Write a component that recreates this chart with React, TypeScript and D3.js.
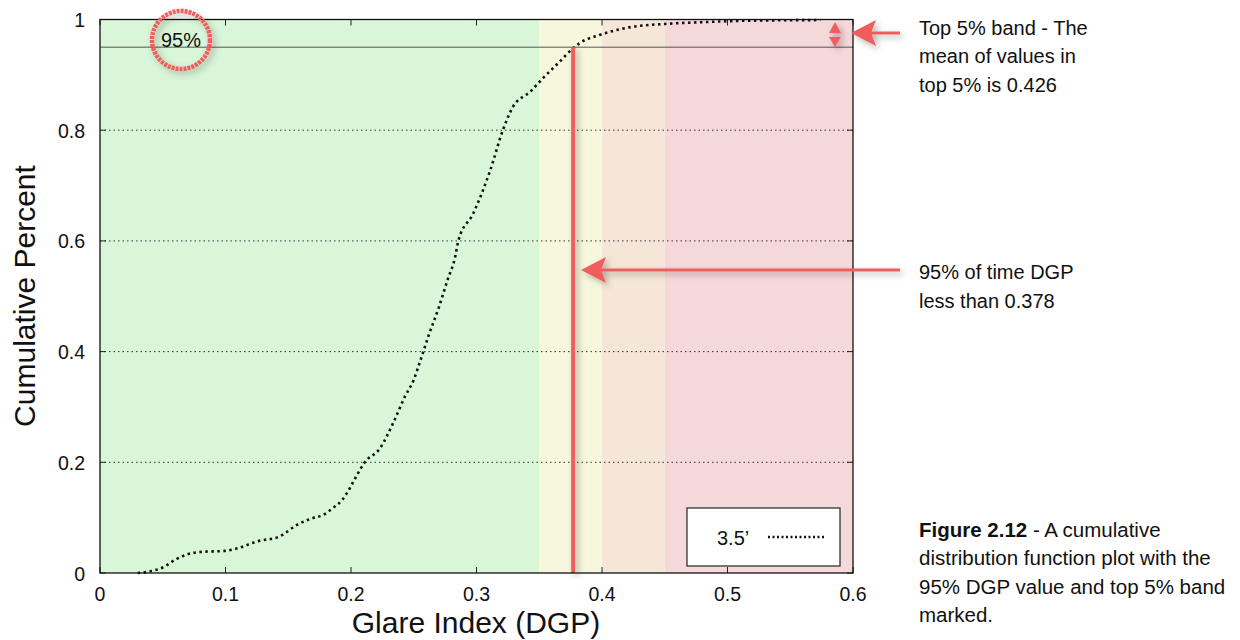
import React from "react";
import * as d3 from "d3";

// CDF of the glare index (DGP)
const dgpValues = [0.03, 0.04, 0.05, 0.06, 0.07, 0.08, 0.1, 0.11, 0.125, 0.143, 0.157, 0.168, 0.178, 0.186, 0.193, 0.199, 0.205, 0.211, 0.223, 0.234, 0.243, 0.25, 0.255, 0.262, 0.27, 0.277, 0.283, 0.2855, 0.2975, 0.311, 0.321, 0.329, 0.343, 0.353, 0.365, 0.377, 0.382, 0.398, 0.425, 0.45, 0.478, 0.52, 0.574];
const cumPercent = [0, 0.003, 0.01, 0.024, 0.034, 0.038, 0.04, 0.045, 0.057, 0.066, 0.087, 0.098, 0.105, 0.118, 0.132, 0.153, 0.178, 0.2, 0.225, 0.273, 0.319, 0.349, 0.382, 0.43, 0.48, 0.53, 0.571, 0.6, 0.65, 0.728, 0.8, 0.842, 0.87, 0.894, 0.921, 0.948, 0.957, 0.972, 0.987, 0.992, 0.995, 0.998, 0.999];

const bandEdges = [0, 0.35, 0.4, 0.45, 0.6];
const bandColors = ["#d9f6d9", "#f6f7dc", "#f5e6d8", "#f5d8da"];

const xTicks = [0, 0.1, 0.2, 0.3, 0.4, 0.5, 0.6];
const yTicks = [0, 0.2, 0.4, 0.6, 0.8, 1];
const gridLevels = [0.2, 0.4, 0.6, 0.8];

const percentile95 = 0.95;
const dgp95 = 0.377;

const seriesName = "3.5\u2019";
const topNote = ["Top 5% band - The", "mean of values in", "top 5% is 0.426"];
const midNote = ["95% of time DGP", "less than 0.378"];
const captionLines = ["distribution function plot with the", "95% DGP value and top 5% band", "marked."];

const RED = "#ef5d5c";
const FONT = "'Liberation Sans', Arial, Helvetica, sans-serif";

export default function App() {
  const width = 1240;
  const height = 640;
  const plot = { left: 100, right: 853, top: 19.5, bottom: 573 };

  const x = d3.scaleLinear().domain([0, 0.6]).range([plot.left, plot.right]);
  const y = d3.scaleLinear().domain([0, 1]).range([plot.bottom, plot.top]);

  const points = dgpValues.map((v, i) => [v, cumPercent[i]] as [number, number]);
  const linePath = d3
    .line<[number, number]>()
    .x((d) => x(d[0]))
    .y((d) => y(d[1]))
    .curve(d3.curveMonotoneX)(points);

  const arrow = (tipX: number, tipY: number, tailX: number) => (
    <g filter="url(#shadow)">
      <rect x={tipX + 18} y={tipY - 1.5} width={tailX - tipX - 18} height={3} fill={RED} />
      <path d={`M${tipX},${tipY} L${tipX + 25},${tipY - 13} L${tipX + 20},${tipY} L${tipX + 25},${tipY + 13} Z`} fill={RED} />
    </g>
  );

  return (
    <svg width={width} height={height} style={{ position: "absolute", left: 0, top: 0 }} fontFamily={FONT}>
      <defs>
        <filter id="shadow" filterUnits="userSpaceOnUse" x={0} y={0} width={width} height={height}>
          <feDropShadow dx={3} dy={3} stdDeviation={3} floodColor="#000" floodOpacity={0.3} />
        </filter>
      </defs>

      {/* DGP bands */}
      {bandColors.map((c, i) => (
        <rect key={i} x={x(bandEdges[i])} y={plot.top} width={x(bandEdges[i + 1]) - x(bandEdges[i])} height={plot.bottom - plot.top} fill={c} />
      ))}

      {/* grid */}
      {gridLevels.map((g) => (
        <line key={g} x1={plot.left} x2={plot.right} y1={y(g)} y2={y(g)} stroke="#333" strokeWidth={1} strokeDasharray="1.5,3" />
      ))}

      {/* 95% line */}
      <line x1={plot.left} x2={plot.right} y1={y(percentile95)} y2={y(percentile95)} stroke="#555" strokeWidth={1} />

      {/* ticks */}
      {xTicks.map((t) => (
        <g key={t}>
          <line x1={x(t)} x2={x(t)} y1={plot.bottom} y2={plot.bottom - 6} stroke="#222" />
          <line x1={x(t)} x2={x(t)} y1={plot.top} y2={plot.top + 6} stroke="#222" />
          <text x={x(t)} y={601} textAnchor="middle" fontSize={19.5} fill="#111">{t}</text>
        </g>
      ))}
      {yTicks.map((t) => (
        <g key={t}>
          <line x1={plot.left} x2={plot.left + 6} y1={y(t)} y2={y(t)} stroke="#222" />
          <line x1={plot.right} x2={plot.right - 6} y1={y(t)} y2={y(t)} stroke="#222" />
          <text x={85} y={y(t) + 7.5} textAnchor="end" fontSize={19.5} fill="#111">{t}</text>
        </g>
      ))}

      {/* CDF curve */}
      <path d={linePath ?? ""} fill="none" stroke="#111" strokeWidth={2.6} strokeDasharray="2.5,3.5" />

      {/* 95% DGP marker */}
      <rect x={x(dgp95) - 2} y={y(percentile95)} width={4} height={plot.bottom - y(percentile95)} fill={RED} filter="url(#shadow)" />

      {/* frame */}
      <rect x={plot.left} y={plot.top} width={plot.right - plot.left} height={plot.bottom - plot.top} fill="none" stroke="#111" strokeWidth={1.3} />

      {/* legend */}
      <rect x={687} y={508} width={153} height={58} fill="#fff" stroke="#222" strokeWidth={1.2} />
      <text x={717} y={545} fontSize={20} fill="#111">{seriesName}</text>
      <line x1={768} x2={825} y1={537} y2={537} stroke="#111" strokeWidth={2.4} strokeDasharray="2,2.5" />

      {/* 95% circle */}
      <text x={161} y={47} fontSize={20} fill="#111">95%</text>
      <ellipse cx={181} cy={40} rx={29} ry={29} fill="none" stroke={RED} strokeWidth={4.5} strokeDasharray="3,1" filter="url(#shadow)" />

      {/* top band markers */}
      <g filter="url(#shadow)">
        <path d="M829,33 L835,22 L841,33 Z" fill={RED} />
        <path d="M829,37 L841,37 L835,47 Z" fill={RED} />
      </g>

      {arrow(851, 33, 900)}
      {arrow(581, 270, 900)}

      {/* axis titles */}
      <text x={476} y={633} textAnchor="middle" fontSize={30} fill="#111">Glare Index (DGP)</text>
      <text transform="translate(35,296) rotate(-90)" textAnchor="middle" fontSize={30} fill="#111">Cumulative Percent</text>

      {/* annotations */}
      {topNote.map((s, i) => (
        <text key={s} x={919} y={35 + i * 28.3} fontSize={20} fill="#111">{s}</text>
      ))}
      {midNote.map((s, i) => (
        <text key={s} x={919} y={279.3 + i * 28.4} fontSize={20} fill="#111">{s}</text>
      ))}
      <text x={919} y={537} fontSize={20.5} fill="#111">
        <tspan fontWeight="bold">Figure 2.12</tspan> - A cumulative
      </text>
      {captionLines.map((s, i) => (
        <text key={s} x={919} y={565 + i * 28.5} fontSize={20.5} fill="#111">{s}</text>
      ))}
    </svg>
  );
}
